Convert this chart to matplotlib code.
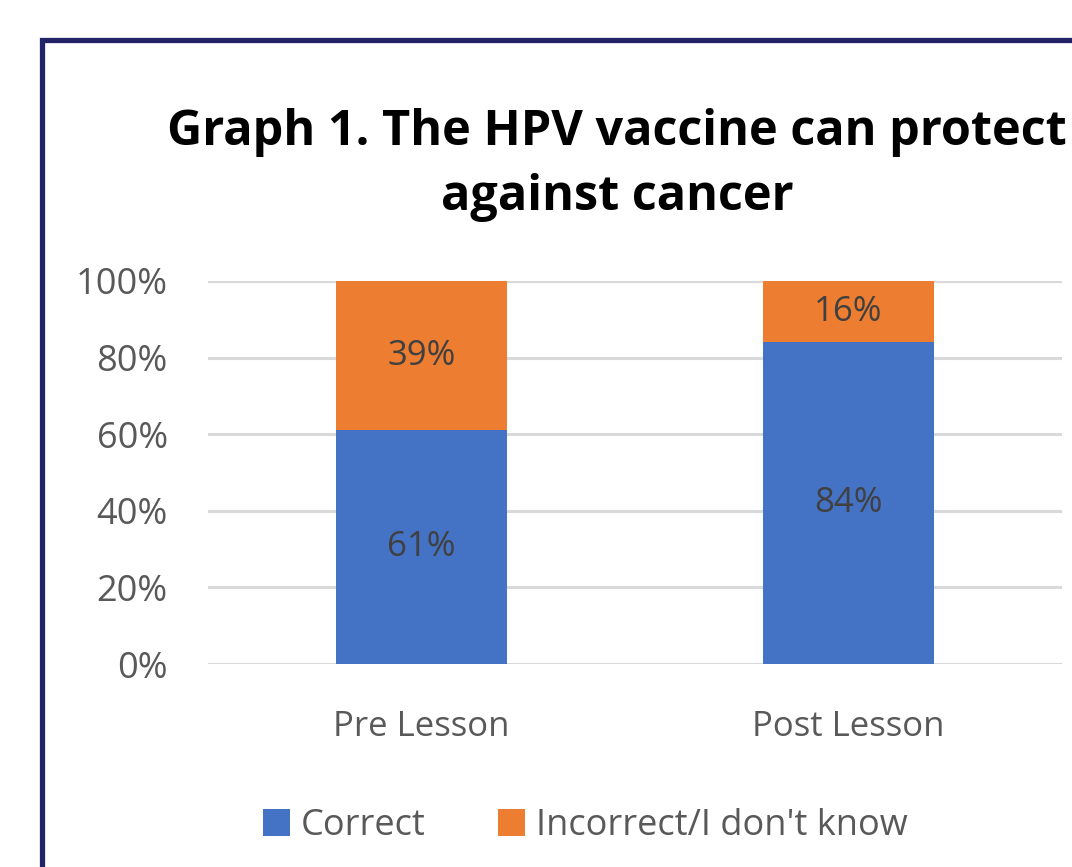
import matplotlib.pyplot as plt
import numpy as np
from matplotlib.patches import Patch, Rectangle

categories = ["Pre Lesson", "Post Lesson"]
correct = [0.61, 0.84]
incorrect = [0.39, 0.16]
series_labels = ["Correct", "Incorrect/I don't know"]
yticks = [0, 0.2, 0.4, 0.6, 0.8, 1.0]
ytick_labels = ["0%", "20%", "40%", "60%", "80%", "100%"]

BLUE = "#4472C4"
ORANGE = "#ED7D31"
GRID = "#D9D9D9"
TICK = "#595959"
LABEL = "#404040"
NAVY = "#232468"

plt.rcParams["font.family"] = "Open Sans"

W, H = 1072, 867
fig = plt.figure(figsize=(W / 100, H / 100), dpi=100)
fig.patch.set_facecolor("white")

# navy frame (only left/top visible, rest is cropped off)
fig.patches.append(
    Rectangle((42 / W, -0.2), 1.3, 1.2 - 40 / H, transform=fig.transFigure,
              fill=False, edgecolor=NAVY, linewidth=3.8, joinstyle="miter")
)

fig.text(617 / W, 1 - 165 / H, "Graph 1. The HPV vaccine can protect\nagainst cancer",
         ha="center", va="center", fontsize=35, fontweight="bold", color="black",
         linespacing=1.42)

ax = fig.add_axes([208 / W, 1 - 664 / H, (1062 - 208) / W, (664 - 281) / H])
x = np.arange(len(categories))
width = 0.4
b1 = ax.bar(x, correct, width, color=BLUE, zorder=2)
b2 = ax.bar(x, incorrect, width, bottom=correct, color=ORANGE, zorder=2)

for bars, vals, bottoms in [(b1, correct, [0, 0]), (b2, incorrect, correct)]:
    for rect, v, b in zip(bars, vals, bottoms):
        ax.text(rect.get_x() + rect.get_width() / 2, b + v / 2, f"{v * 100:.0f}%",
                ha="center", va="center", fontsize=25, color=LABEL, zorder=3)

ax.set_xlim(-0.5, 1.5)
ax.set_ylim(0, 1)
ax.set_yticks(yticks)
ax.set_yticklabels(ytick_labels, fontsize=26, color=TICK)
ax.set_xticks(x)
ax.set_xticklabels(categories, fontsize=25, color=TICK)
ax.tick_params(axis="both", length=0)
ax.tick_params(axis="y", pad=29)
ax.tick_params(axis="x", pad=33)
ax.yaxis.grid(True, color=GRID, linewidth=2.2, zorder=0)
ax.set_axisbelow(True)
for s in ax.spines.values():
    s.set_visible(False)

handles = [Patch(facecolor=BLUE, label=series_labels[0]),
           Patch(facecolor=ORANGE, label=series_labels[1])]
leg = fig.legend(handles=handles, loc="center", bbox_to_anchor=(585 / W, 1 - 826 / H),
                 ncol=2, frameon=False, fontsize=26, handlelength=0.75, handleheight=0.75,
                 handletextpad=0.3, columnspacing=2.0)
for t in leg.get_texts():
    t.set_color(TICK)

fig.savefig("out.png", dpi=100, facecolor="white")
